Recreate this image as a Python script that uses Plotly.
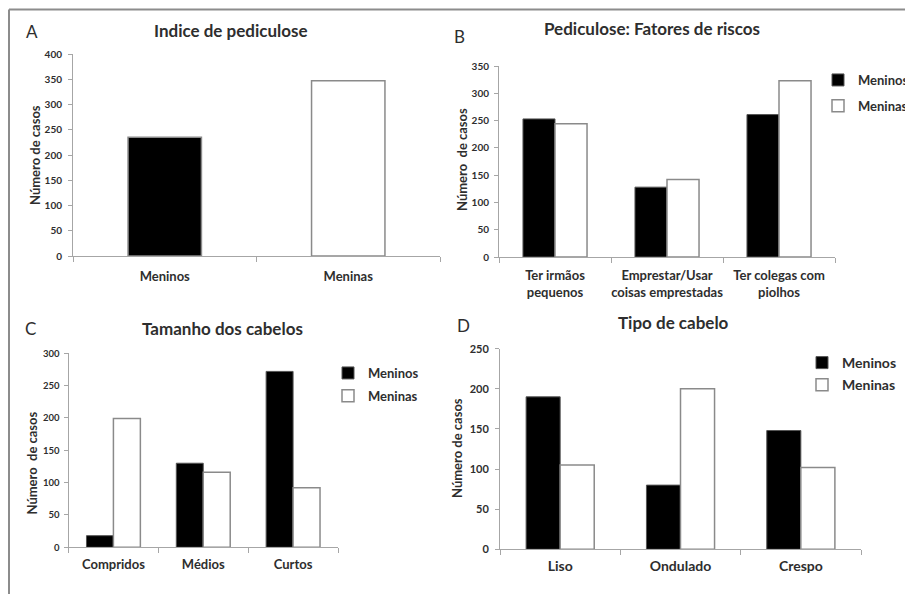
import plotly.graph_objects as go

# The page shows the figure 8 px in from the top-left corner,
# so the figure is 905 x 586 and reference pixels are shifted by 8.
OFF = 8
W, H = 913 - OFF, 594 - OFF
FONT = "Lato"
TXT = "#2e2e2e"
AX = "#a6a6a6"

def px(x):
    return (x - OFF) / W

def py(y):
    return 1 - (y - OFF) / H

# ---------------- data ----------------
a_categories = ["Meninos", "Meninas"]
a_values = [235, 347]
a_colors = ["#000000", "#ffffff"]

b_categories = ["Ter irmãos<br>pequenos", "Emprestar/Usar<br>coisas emprestadas", "Ter colegas com<br>piolhos"]
b_meninos = [253, 128, 261]
b_meninas = [244, 142, 323]

c_categories = ["Compridos", "Médios", "Curtos"]
c_meninos = [18, 130, 272]
c_meninas = [199, 116, 92]

d_categories = ["Liso", "Ondulado", "Crespo"]
d_meninos = [190, 80, 148]
d_meninas = [105, 200, 102]

series_names = ["Meninos", "Meninas"]

fig = go.Figure()

# Panel A
fig.add_trace(go.Bar(x=a_categories, y=a_values, width=0.4,
                     marker=dict(color=a_colors, line=dict(color="#8a8a8a", width=1.5)),
                     showlegend=False, xaxis="x", yaxis="y"))

def pair(cats, men, wom, xa, ya, leg, w):
    fig.add_trace(go.Bar(x=cats, y=men, name=series_names[0], width=w, offset=-w,
                         marker=dict(color="#000000", line=dict(color="#555555", width=1)),
                         xaxis=xa, yaxis=ya, legend=leg, legendgroup=leg + "a"))
    fig.add_trace(go.Bar(x=cats, y=wom, name=series_names[1], width=w, offset=0,
                         marker=dict(color="#ffffff", line=dict(color="#8a8a8a", width=1.5)),
                         xaxis=xa, yaxis=ya, legend=leg, legendgroup=leg + "b"))

pair(b_categories, b_meninos, b_meninas, "x2", "y2", "legend", 0.286)
pair(c_categories, c_meninos, c_meninas, "x3", "y3", "legend2", 0.30)
pair(d_categories, d_meninos, d_meninas, "x4", "y4", "legend3", 0.283)

def xaxis(x0, x1, size, standoff):
    return dict(domain=[px(x0), px(x1)], showline=True, linecolor=AX, linewidth=1,
                ticks="outside", tickson="boundaries", ticklen=5, tickcolor=AX,
                showgrid=False, zeroline=False, range=[-0.5, 2.5], tickangle=0,
                ticklabelstandoff=standoff,
                tickfont=dict(family=FONT, size=size, color=TXT, weight="bold"))

def yaxis(y0, y1, top, standoff, size=10):
    return dict(domain=[py(y1), py(y0)], range=[0, top], dtick=50, showline=True, linecolor=AX,
                linewidth=1, ticks="outside", ticklen=4, tickcolor=AX, showgrid=False,
                zeroline=False, ticklabelstandoff=standoff,
                tickfont=dict(family=FONT, size=size, color=TXT, weight="bold"))

xa = xaxis(73, 440, 13, 8); xa.update(range=[-0.5, 1.5], anchor="y")
xb = xaxis(499, 835, 13, 6); xb.update(anchor="y2")
xc = xaxis(68.5, 338, 13, 5); xc.update(anchor="y3")
xd = xaxis(500, 861, 14, 4); xd.update(anchor="y4")
ya = yaxis(54, 256, 400, 4); ya.update(anchor="x")
yb = yaxis(66, 257, 350, 3); yb.update(anchor="x2")
yc = yaxis(353.3, 547.3, 300, 2, 9.5); yc.update(anchor="x3")
yd = yaxis(348.7, 549.3, 250, 4, 11); yd.update(anchor="x4")

annotations = []
def text(x, y, s, size, bold=True, angle=0):
    annotations.append(dict(x=px(x), y=py(y), xref="paper", yref="paper", text=s,
                            showarrow=False, xanchor="center", yanchor="middle",
                            textangle=angle,
                            font=dict(family=FONT, size=size, color=TXT,
                                      weight="bold" if bold else "normal")))

# titles
text(231, 30, "Indice de pediculose", 17)
text(652, 29, "Pediculose: Fatores de riscos", 17)
text(222, 328, "Tamanho dos cabelos", 17)
text(673, 322, "Tipo de cabelo", 17)
# panel letters
text(32, 31, "A", 17, bold=False)
text(459, 36, "B", 17, bold=False)
text(30, 328, "C", 17, bold=False)
text(463, 325, "D", 17, bold=False)
# y-axis titles
text(35, 155, "Número de casos", 13, angle=-90)
text(462, 160, "Número  de casos", 13, angle=-90)
text(31.5, 463, "Número  de casos", 13, angle=-90)
text(457, 448, "Número de casos", 13, angle=-90)

def legend(x, y, size, gap):
    return dict(x=px(x), y=py(y), xanchor="left", yanchor="top", bgcolor="rgba(0,0,0,0)",
                font=dict(family=FONT, size=size, color=TXT, weight="bold"),
                tracegroupgap=gap, itemwidth=30)

fig.update_layout(
    width=W, height=H, margin=dict(l=0, r=0, t=0, b=0, autoexpand=False),
    paper_bgcolor="white", plot_bgcolor="white",
    barmode="group",
    xaxis=xa, yaxis=ya, xaxis2=xb, yaxis2=yb, xaxis3=xc, yaxis3=yc, xaxis4=xd, yaxis4=yd,
    legend=legend(818, 65, 13, 6),
    legend2=legend(328, 358, 13, 3),
    legend3=legend(802, 347, 14, 1),
    annotations=annotations,
    shapes=[
        dict(type="line", xref="paper", yref="paper", x0=px(9), x1=1, y0=py(9.5), y1=py(9.5),
             line=dict(color="#8c8c8c", width=2)),
        dict(type="line", xref="paper", yref="paper", x0=px(9), x1=px(9), y0=py(9.5), y1=0,
             line=dict(color="#8c8c8c", width=2)),
    ],
)

fig.write_html("out.html")
